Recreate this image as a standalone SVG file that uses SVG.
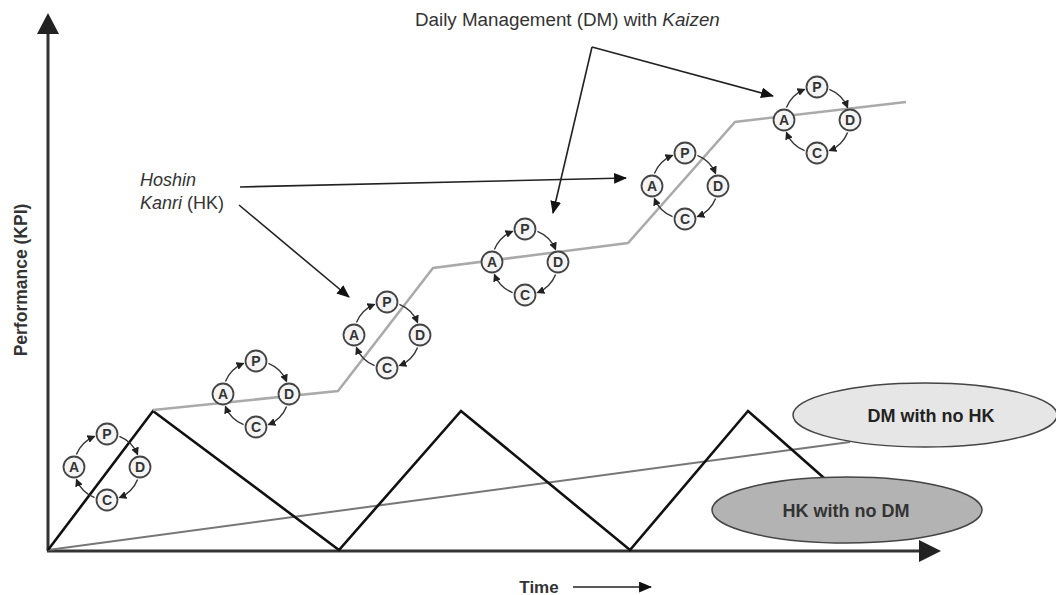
<svg xmlns="http://www.w3.org/2000/svg" width="1056" height="595" viewBox="0 0 1056 595">
<defs>
<style>
.lbl{font-family:"Liberation Sans",Arial,sans-serif;font-size:18px;fill:#333}
.b{font-weight:bold}
.node circle{fill:#f4f4f4;stroke:#444;stroke-width:1.8}
.node text{font-family:"Liberation Sans",Arial,sans-serif;font-size:14px;font-weight:bold;fill:#333;text-anchor:middle}
.arc{fill:none;stroke:#333;stroke-width:1.4;marker-end:url(#sm)}
.ptr{fill:none;stroke:#222;stroke-width:1.6}
</style>
<marker id="sm" viewBox="0 0 8 8" refX="7" refY="4" markerWidth="8" markerHeight="8" markerUnits="userSpaceOnUse" orient="auto"><path d="M0,0 L8,4 L0,8 z" fill="#222"/></marker>
<marker id="big" viewBox="0 0 12 10" refX="11" refY="5" markerWidth="13" markerHeight="11" markerUnits="userSpaceOnUse" orient="auto"><path d="M0,0 L12,5 L0,10 z" fill="#111"/></marker>
</defs>
<rect width="1056" height="595" fill="#fff"/>

<g id="connectors">
<line x1="48" y1="551" x2="48" y2="30" stroke="#333" stroke-width="3"/>
<polygon points="48,13 37,34 59,34" fill="#222"/>
<line x1="47" y1="551" x2="922" y2="551" stroke="#333" stroke-width="3"/>
<polygon points="941,551 919,540 919,562" fill="#222"/>
<line x1="48" y1="550" x2="850" y2="442" stroke="#777" stroke-width="2"/>
<polyline points="48,550 153,411 339,550 461,411 630,550 748,411 824,478" fill="none" stroke="#111" stroke-width="2.6"/>
<polyline points="153,410 338,391 433,268 628,243 735,122 906,102" fill="none" stroke="#aaa" stroke-width="2.5"/>
<line class="ptr" x1="592" y1="47" x2="553" y2="213" marker-end="url(#big)"/>
<line class="ptr" x1="592" y1="47" x2="773" y2="96" marker-end="url(#big)"/>
<line class="ptr" x1="240" y1="187" x2="626" y2="178" marker-end="url(#big)"/>
<line class="ptr" x1="239" y1="205" x2="349" y2="297" marker-end="url(#big)"/>
<line class="ptr" x1="573" y1="587" x2="651" y2="587" marker-end="url(#big)"/>
</g>

<g id="cycle1" class="node" transform="translate(107,467)">
<path class="arc" d="M-30.6,-12.4 A33,33 0 0 1 -12.4,-30.6"/>
<path class="arc" d="M12.4,-30.6 A33,33 0 0 1 30.6,-12.4"/>
<path class="arc" d="M30.6,12.4 A33,33 0 0 1 12.4,30.6"/>
<path class="arc" d="M-12.4,30.6 A33,33 0 0 1 -30.6,12.4"/>
<circle cx="0" cy="-33" r="10.5"/><text x="0" y="-28">P</text>
<circle cx="33" cy="0" r="10.5"/><text x="33" y="5">D</text>
<circle cx="0" cy="33" r="10.5"/><text x="0" y="38">C</text>
<circle cx="-33" cy="0" r="10.5"/><text x="-33" y="5">A</text>
</g>
<g id="cycle2" class="node" transform="translate(256,394)">
<path class="arc" d="M-30.6,-12.4 A33,33 0 0 1 -12.4,-30.6"/>
<path class="arc" d="M12.4,-30.6 A33,33 0 0 1 30.6,-12.4"/>
<path class="arc" d="M30.6,12.4 A33,33 0 0 1 12.4,30.6"/>
<path class="arc" d="M-12.4,30.6 A33,33 0 0 1 -30.6,12.4"/>
<circle cx="0" cy="-33" r="10.5"/><text x="0" y="-28">P</text>
<circle cx="33" cy="0" r="10.5"/><text x="33" y="5">D</text>
<circle cx="0" cy="33" r="10.5"/><text x="0" y="38">C</text>
<circle cx="-33" cy="0" r="10.5"/><text x="-33" y="5">A</text>
</g>
<g id="cycle3" class="node" transform="translate(387,335)">
<path class="arc" d="M-30.6,-12.4 A33,33 0 0 1 -12.4,-30.6"/>
<path class="arc" d="M12.4,-30.6 A33,33 0 0 1 30.6,-12.4"/>
<path class="arc" d="M30.6,12.4 A33,33 0 0 1 12.4,30.6"/>
<path class="arc" d="M-12.4,30.6 A33,33 0 0 1 -30.6,12.4"/>
<circle cx="0" cy="-33" r="10.5"/><text x="0" y="-28">P</text>
<circle cx="33" cy="0" r="10.5"/><text x="33" y="5">D</text>
<circle cx="0" cy="33" r="10.5"/><text x="0" y="38">C</text>
<circle cx="-33" cy="0" r="10.5"/><text x="-33" y="5">A</text>
</g>
<g id="cycle4" class="node" transform="translate(525,262)">
<path class="arc" d="M-30.6,-12.4 A33,33 0 0 1 -12.4,-30.6"/>
<path class="arc" d="M12.4,-30.6 A33,33 0 0 1 30.6,-12.4"/>
<path class="arc" d="M30.6,12.4 A33,33 0 0 1 12.4,30.6"/>
<path class="arc" d="M-12.4,30.6 A33,33 0 0 1 -30.6,12.4"/>
<circle cx="0" cy="-33" r="10.5"/><text x="0" y="-28">P</text>
<circle cx="33" cy="0" r="10.5"/><text x="33" y="5">D</text>
<circle cx="0" cy="33" r="10.5"/><text x="0" y="38">C</text>
<circle cx="-33" cy="0" r="10.5"/><text x="-33" y="5">A</text>
</g>
<g id="cycle5" class="node" transform="translate(685,186)">
<path class="arc" d="M-30.6,-12.4 A33,33 0 0 1 -12.4,-30.6"/>
<path class="arc" d="M12.4,-30.6 A33,33 0 0 1 30.6,-12.4"/>
<path class="arc" d="M30.6,12.4 A33,33 0 0 1 12.4,30.6"/>
<path class="arc" d="M-12.4,30.6 A33,33 0 0 1 -30.6,12.4"/>
<circle cx="0" cy="-33" r="10.5"/><text x="0" y="-28">P</text>
<circle cx="33" cy="0" r="10.5"/><text x="33" y="5">D</text>
<circle cx="0" cy="33" r="10.5"/><text x="0" y="38">C</text>
<circle cx="-33" cy="0" r="10.5"/><text x="-33" y="5">A</text>
</g>
<g id="cycle6" class="node" transform="translate(817,120)">
<path class="arc" d="M-30.6,-12.4 A33,33 0 0 1 -12.4,-30.6"/>
<path class="arc" d="M12.4,-30.6 A33,33 0 0 1 30.6,-12.4"/>
<path class="arc" d="M30.6,12.4 A33,33 0 0 1 12.4,30.6"/>
<path class="arc" d="M-12.4,30.6 A33,33 0 0 1 -30.6,12.4"/>
<circle cx="0" cy="-33" r="10.5"/><text x="0" y="-28">P</text>
<circle cx="33" cy="0" r="10.5"/><text x="33" y="5">D</text>
<circle cx="0" cy="33" r="10.5"/><text x="0" y="38">C</text>
<circle cx="-33" cy="0" r="10.5"/><text x="-33" y="5">A</text>
</g>

<g id="dm-no-hk">
<ellipse cx="925" cy="415" rx="132" ry="32" fill="#e6e6e6" stroke="#444" stroke-width="1.5"/>
<text class="lbl b" x="931" y="422" text-anchor="middle" style="fill:#222">DM with no HK</text>
</g>
<g id="hk-no-dm">
<ellipse cx="847" cy="510" rx="135" ry="33" fill="#b3b3b3" stroke="#444" stroke-width="1.5"/>
<text class="lbl b" x="846" y="517" text-anchor="middle">HK with no DM</text>
</g>

<g id="label-dm">
<text class="lbl" x="415" y="26" style="font-size:18.8px">Daily Management (DM) with <tspan font-style="italic">Kaizen</tspan></text>
</g>
<g id="label-hk">
<text class="lbl" x="140" y="186" font-style="italic">Hoshin</text>
<text class="lbl" x="140" y="209"><tspan font-style="italic">Kanri</tspan> (HK)</text>
</g>
<g id="axis-labels">
<text class="lbl b" x="539" y="593" text-anchor="middle" style="font-size:17px">Time</text>
<text class="lbl b" transform="translate(27,280) rotate(-90)" text-anchor="middle" style="font-size:17.5px">Performance (KPI)</text>
</g>
</svg>
